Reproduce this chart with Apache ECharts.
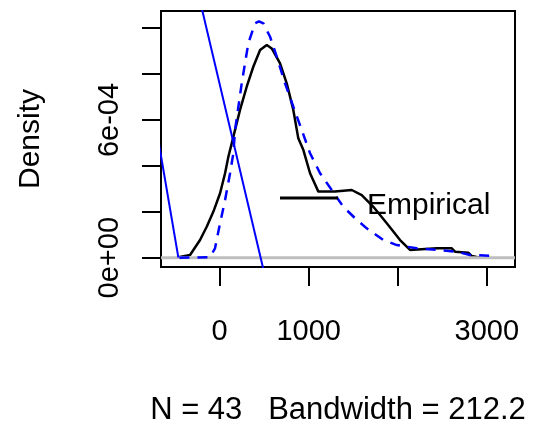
<!DOCTYPE html>
<html>
<head>
<meta charset="utf-8">
<script src="https://cdn.jsdelivr.net/npm/echarts@6/dist/echarts.min.js"></script>
<style>html,body{margin:0;padding:0;background:#fff}#main{width:534px;height:426px}</style>
</head>
<body>
<div id="main"></div>
<script>
// tick positions and labels (R drops the 2000 label, and all but two y labels)
var xTicks = [0, 1000, 2000, 3000]
var xLabels = [0, 1000, 3000]
var yTicks = [0, 2e-4, 4e-4, 6e-4, 8e-4, 10e-4]
var yLabels = [0, 6e-4]

// empirical density (black)
var empX = [-462, -331, -219, -144, -70, 6, 62, 99, 137, 155, 230, 305, 379, 455, 530, 586, 679, 754, 828, 884, 941, 1016, 1109, 1296, 1315, 1484, 1596, 1726, 1877, 2026, 2138, 2438, 2606, 2643, 2792, 2831, 2923]
var empY = [0.02e-4, 0.12e-4, 0.77e-4, 1.35e-4, 2.00e-4, 2.81e-4, 3.68e-4, 4.40e-4, 4.98e-4, 5.27e-4, 6.44e-4, 7.45e-4, 8.32e-4, 9.05e-4, 9.27e-4, 9.12e-4, 8.47e-4, 7.60e-4, 6.44e-4, 5.20e-4, 4.69e-4, 3.68e-4, 2.88e-4, 2.88e-4, 2.95e-4, 2.95e-4, 2.73e-4, 2.22e-4, 1.50e-4, 0.77e-4, 0.34e-4, 0.41e-4, 0.41e-4, 0.26e-4, 0.22e-4, 0.07e-4, 0]

// fitted density (blue dashed)
var fitX = [-450, -107, -51, 6, 62, 118, 155, 174, 249, 323, 398, 443, 492, 567, 642, 735, 828, 923, 1016, 1128, 1259, 1389, 1521, 1652, 1838, 1989, 2213, 2438, 2662, 2811, 3111]
var fitY = [0, 0.02e-4, 0.41e-4, 1.50e-4, 2.51e-4, 3.68e-4, 4.55e-4, 5.56e-4, 7.60e-4, 9.34e-4, 10.21e-4, 10.30e-4, 10.21e-4, 9.63e-4, 8.76e-4, 7.60e-4, 6.58e-4, 5.56e-4, 4.55e-4, 3.68e-4, 2.95e-4, 2.22e-4, 1.72e-4, 1.28e-4, 0.77e-4, 0.55e-4, 0.41e-4, 0.34e-4, 0.26e-4, 0.12e-4, 0.07e-4]

// two straight blue lines
var lineAX = [-700, -462]
var lineAY = [5.42e-4, 0]
var lineBX = [-250, 550]
var lineBY = [11.70e-4, -1.46e-4]

var zeroX = [-657, 3316]
var zeroY = [0, 0]

function pairs(xs, ys) {
    var out = []
    for (var i = 0; i < xs.length; i++) out.push([xs[i], ys[i]])
    return out
}

function sci(v) {
    var s = v.toExponential(0).split('e')
    var e = parseInt(s[1], 10)
    var a = Math.abs(e)
    return s[0] + 'e' + (e < 0 ? '-' : '+') + (a < 10 ? '0' + a : a)
}

var FONT = 'Liberation Sans'
var myChart = echarts.init(document.getElementById('main'))

var option = {
    animation: false,
    textStyle: {fontFamily: FONT},
    grid: {left: 161, right: 19, top: 11, bottom: 159, outerBoundsMode: 'none', containLabel: false,
           show: true, borderColor: '#000', borderWidth: 2},
    legend: {
        data: ['Empirical'],
        left: 275, top: 186,
        icon: 'rect', itemWidth: 58, itemHeight: 3,
        itemStyle: {color: '#000'},
        formatter: '{t|{name}}',
        textStyle: {
            fontFamily: FONT, fontSize: 30, color: '#000',
            rich: {t: {fontFamily: FONT, fontSize: 30, color: '#000', lineHeight: 46, verticalAlign: 'bottom', padding: [0, 0, 0, 24]}}
        }
    },
    xAxis: {
        type: 'value', min: -657, max: 3316,
        name: 'N = 43   Bandwidth = 212.2', nameLocation: 'middle', nameGap: 128,
        nameTextStyle: {fontFamily: FONT, fontSize: 31, color: '#000'},
        splitLine: {show: false},
        axisLine: {show: false, onZero: false},
        axisTick: {show: true, length: 19, customValues: xTicks, lineStyle: {color: '#000', width: 2}},
        axisLabel: {customValues: xLabels, margin: 50, fontSize: 29, color: '#000', fontFamily: FONT,
                    formatter: function (v) { return String(v) }}
    },
    yAxis: {
        type: 'value', min: -0.405e-4, max: 10.75e-4,
        name: 'Density', nameLocation: 'middle', nameGap: 115, nameRotate: 90,
        nameTextStyle: {fontFamily: FONT, fontSize: 30, color: '#000'},
        splitLine: {show: false},
        axisLine: {show: false, onZero: false},
        axisTick: {show: true, length: 19, customValues: yTicks, lineStyle: {color: '#000', width: 2}},
        axisLabel: {customValues: yLabels, rotate: 90, margin: 37, fontSize: 29, color: '#000', fontFamily: FONT, formatter: sci}
    },
    series: [
        {name: 'Empirical', type: 'line', data: pairs(empX, empY), showSymbol: false, symbol: 'none',
         lineStyle: {color: '#000', width: 2.5}, itemStyle: {color: '#000'}},
        {name: 'zero', type: 'line', data: pairs(zeroX, zeroY), showSymbol: false, symbol: 'none',
         lineStyle: {color: '#BEBEBE', width: 3}},
        {name: 'fit', type: 'line', data: pairs(fitX, fitY), showSymbol: false, symbol: 'none',
         lineStyle: {color: '#0000FF', width: 2.5, type: [10, 8]}},
        {name: 'lineA', type: 'line', data: pairs(lineAX, lineAY), showSymbol: false, symbol: 'none',
         lineStyle: {color: '#0000FF', width: 2}},
        {name: 'lineB', type: 'line', data: pairs(lineBX, lineBY), showSymbol: false, symbol: 'none',
         lineStyle: {color: '#0000FF', width: 2}}
    ]
}
myChart.setOption(option)
</script>
</body>
</html>
